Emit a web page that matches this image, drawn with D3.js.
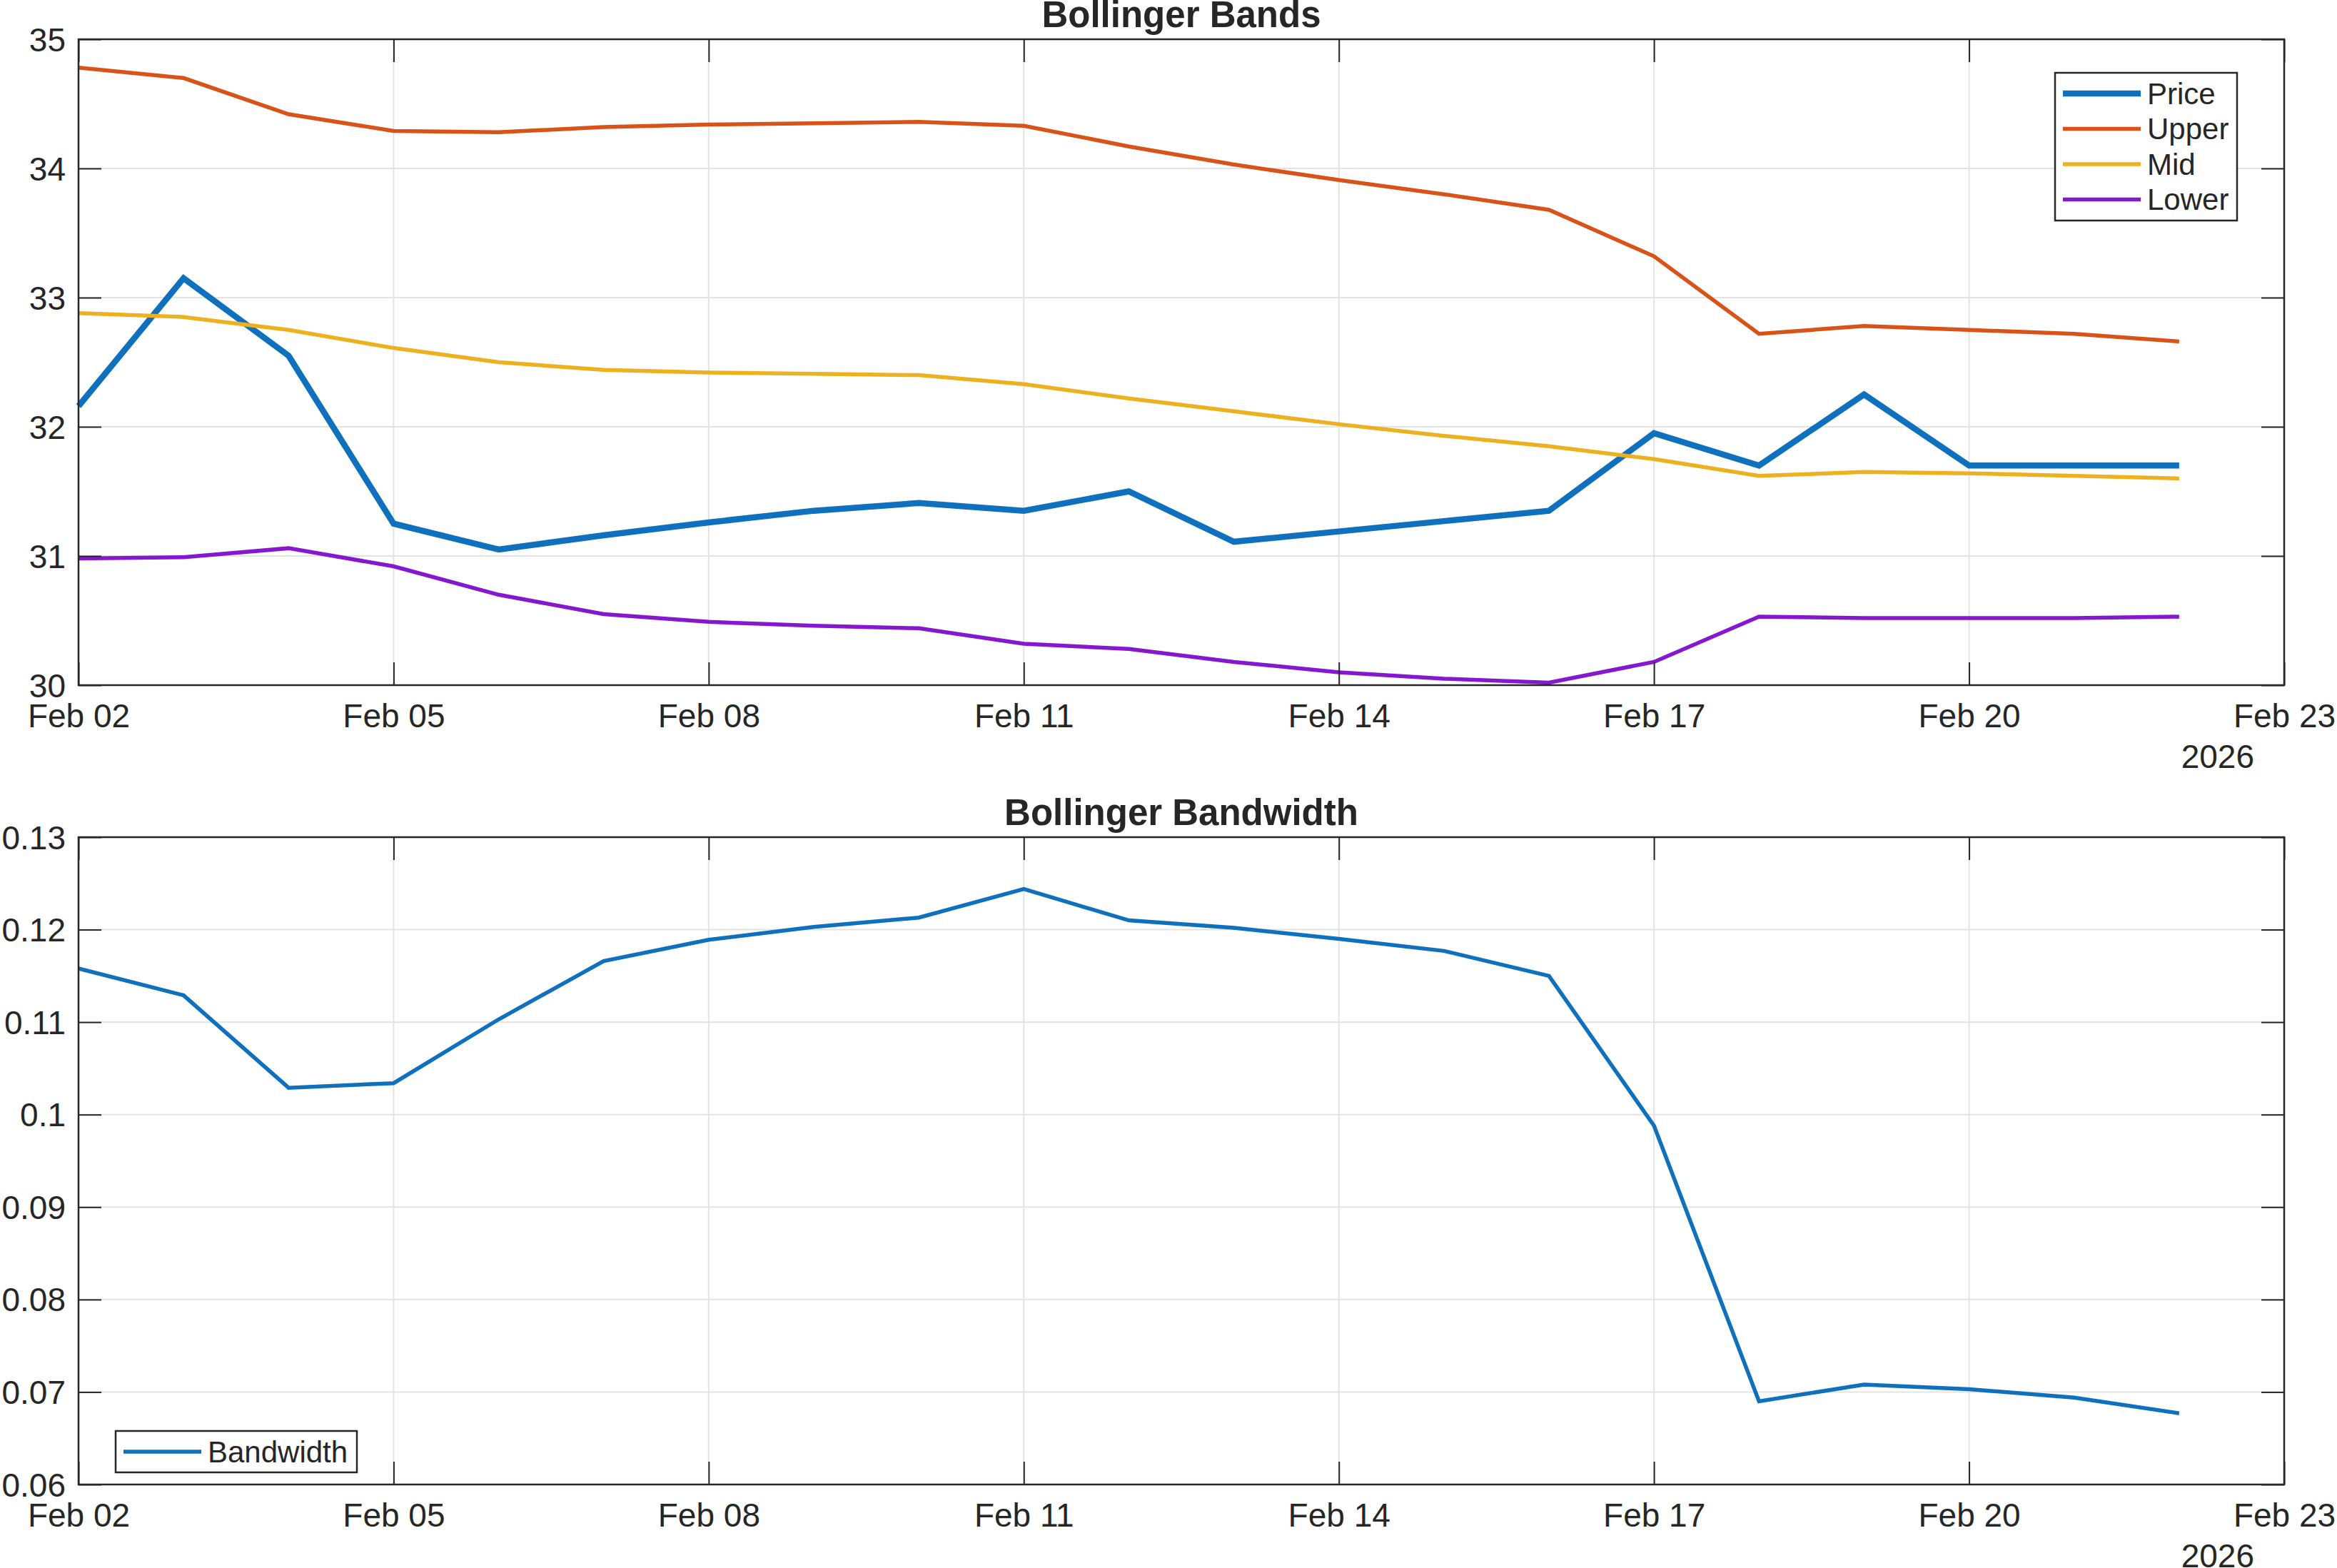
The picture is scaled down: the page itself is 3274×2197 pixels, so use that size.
<!DOCTYPE html>
<html>
<head>
<meta charset="utf-8">
<script src="https://cdn.jsdelivr.net/npm/d3@7"></script>
<style>
  body { margin: 0; background: #fff; }
  text { font-family: "Liberation Sans", Arial, sans-serif; fill: #262626; }
</style>
</head>
<body>
<div id="chart"></div>
<script>
let width = 3274;
let height = 2197;

// Data
let dates = ["2026-02-02", "2026-02-03", "2026-02-04", "2026-02-05", "2026-02-06", "2026-02-07", "2026-02-08",
    "2026-02-09", "2026-02-10", "2026-02-11", "2026-02-12", "2026-02-13", "2026-02-14", "2026-02-15",
    "2026-02-16", "2026-02-17", "2026-02-18", "2026-02-19", "2026-02-20", "2026-02-21", "2026-02-22"];
let price = [32.16, 33.15, 32.55, 31.25, 31.05, 31.16, 31.26, 31.35, 31.41, 31.35, 31.50,
    31.11, 31.19, 31.27, 31.35, 31.95, 31.70, 32.25, 31.70, 31.70, 31.70];
let upper = [34.78, 34.70, 34.42, 34.29, 34.28, 34.32, 34.34, 34.35, 34.36, 34.33, 34.17,
    34.03, 33.91, 33.80, 33.68, 33.32, 32.72, 32.78, 32.75, 32.72, 32.66];
let mid = [32.88, 32.85, 32.75, 32.61, 32.50, 32.44, 32.42, 32.41, 32.40, 32.33, 32.22,
    32.12, 32.02, 31.93, 31.85, 31.75, 31.62, 31.65, 31.64, 31.62, 31.60];
let lower = [30.98, 30.99, 31.06, 30.92, 30.70, 30.55, 30.49, 30.46, 30.44, 30.32, 30.28,
    30.18, 30.10, 30.05, 30.02, 30.18, 30.53, 30.52, 30.52, 30.52, 30.53];
let bandwidth = [0.1158, 0.1129, 0.1029, 0.1034, 0.1103, 0.1166, 0.1189, 0.1203, 0.1213, 0.1244, 0.1210,
    0.1202, 0.1190, 0.1177, 0.1150, 0.0988, 0.0690, 0.0708, 0.0703, 0.0694, 0.0677];

let xTickDates = ["2026-02-02", "2026-02-05", "2026-02-08", "2026-02-11", "2026-02-14", "2026-02-17", "2026-02-20", "2026-02-23"];
let xDomain = ["2026-02-02", "2026-02-23"];
let bandTicks = [30, 31, 32, 33, 34, 35];
let widthTicks = [0.06, 0.07, 0.08, 0.09, 0.10, 0.11, 0.12, 0.13];
let yearLabel = "2026";

// Colors
let colorAxis = '#262626';
let colorGrid = '#e3e3e3';
let colorSeries = {
    "Price": '#0f71be',
    "Upper": '#d95319',
    "Mid": '#edb120',
    "Lower": '#8517d0',
    "Bandwidth": '#0f71be'
};

let parseDate = d3.utcParse("%Y-%m-%d");
let fmtDate = d3.utcFormat("%b %d");

let left = 110, right = 3200;
let tickFont = 46, legendFont = 42, titleFont = 51;

let svg = d3.select("#chart")
    .append("svg")
    .attr("width", width)
    .attr("height", height);

let xScale = d3.scaleUtc()
    .domain(xDomain.map(parseDate))
    .range([left, right]);

function drawPanel(opts) {
    let yScale = d3.scaleLinear()
        .domain(opts.yDomain)
        .range([opts.bottom, opts.top]);

    let g = svg.append("g");

    // grid
    g.selectAll(".vgrid")
        .data(xTickDates.map(parseDate))
        .enter().append("line")
        .attr("x1", d => xScale(d)).attr("x2", d => xScale(d))
        .attr("y1", opts.top).attr("y2", opts.bottom)
        .attr("stroke", colorGrid).attr("stroke-width", 2);
    g.selectAll(".hgrid")
        .data(opts.yTicks)
        .enter().append("line")
        .attr("x1", left).attr("x2", right)
        .attr("y1", d => yScale(d)).attr("y2", d => yScale(d))
        .attr("stroke", colorGrid).attr("stroke-width", 2);

    // series
    opts.series.forEach(s => {
        let line = d3.line()
            .x((d, i) => xScale(parseDate(dates[i])))
            .y(d => yScale(d));
        g.append("path")
            .datum(s.values)
            .attr("fill", "none")
            .attr("stroke", colorSeries[s.name])
            .attr("stroke-width", s.w)
            .attr("stroke-linejoin", "miter")
            .attr("d", line);
    });

    // axes, ticks inward on all sides
    let tickLen = 32;
    let xAxisB = d3.axisBottom(xScale).tickValues(xTickDates.map(parseDate)).tickSizeInner(-tickLen).tickSizeOuter(0).tickFormat(fmtDate);
    let xAxisT = d3.axisTop(xScale).tickValues(xTickDates.map(parseDate)).tickSizeInner(-tickLen).tickSizeOuter(0).tickFormat("");
    let yAxisL = d3.axisLeft(yScale).tickValues(opts.yTicks).tickSizeInner(-tickLen).tickSizeOuter(0).tickFormat(d3.format("~g")).tickPadding(18);
    let yAxisR = d3.axisRight(yScale).tickValues(opts.yTicks).tickSizeInner(-tickLen).tickSizeOuter(0).tickFormat("");

    let axes = [
        g.append("g").attr("transform", "translate(0," + opts.bottom + ")").call(xAxisB),
        g.append("g").attr("transform", "translate(0," + opts.top + ")").call(xAxisT),
        g.append("g").attr("transform", "translate(" + left + ",0)").call(yAxisL),
        g.append("g").attr("transform", "translate(" + right + ",0)").call(yAxisR)
    ];
    axes.forEach(a => {
        a.select(".domain").remove();
        a.selectAll(".tick line").attr("stroke", colorAxis).attr("stroke-width", 2);
        a.selectAll("text").attr("font-size", tickFont).attr("font-family", "Liberation Sans, Arial, sans-serif").attr("fill", colorAxis);
    });
    axes[0].selectAll("text").attr("dy", null).attr("y", 59);
    axes[2].selectAll("text").attr("dy", "0.35em");

    // box
    g.append("rect")
        .attr("x", left).attr("y", opts.top)
        .attr("width", right - left).attr("height", opts.bottom - opts.top)
        .attr("fill", "none").attr("stroke", colorAxis).attr("stroke-width", 2.5);

    // year label
    g.append("text")
        .attr("x", 3158).attr("y", opts.bottom + 116)
        .attr("text-anchor", "end")
        .attr("font-size", tickFont)
        .text(yearLabel);

    // title
    g.append("text")
        .attr("x", (left + right) / 2).attr("y", opts.top - 17)
        .attr("text-anchor", "middle")
        .attr("font-size", titleFont)
        .attr("font-weight", "bold")
        .text(opts.title);

    // legend
    let lg = g.append("g").attr("transform", "translate(" + opts.legend.x + "," + opts.legend.y + ")");
    lg.append("rect")
        .attr("width", opts.legend.w).attr("height", opts.legend.h)
        .attr("fill", "#fff").attr("stroke", colorAxis).attr("stroke-width", 2.5);
    opts.series.forEach((s, i) => {
        let cy = opts.legend.first + i * 49.5;
        lg.append("line")
            .attr("x1", opts.legend.lx0).attr("x2", opts.legend.lx1)
            .attr("y1", cy).attr("y2", cy)
            .attr("stroke", colorSeries[s.name]).attr("stroke-width", s.w);
        lg.append("text")
            .attr("x", opts.legend.lx1 + 9).attr("y", cy)
            .attr("dy", "0.35em")
            .attr("font-size", legendFont)
            .text(s.name);
    });
}

drawPanel({
    title: "Bollinger Bands",
    top: 55, bottom: 960,
    yDomain: [30, 35],
    yTicks: bandTicks,
    series: [
        {name: "Price", values: price, w: 8.5},
        {name: "Upper", values: upper, w: 5.5},
        {name: "Mid", values: mid, w: 5.5},
        {name: "Lower", values: lower, w: 5.5}
    ],
    legend: {x: 2879, y: 102, w: 255, h: 207, first: 29, lx0: 11, lx1: 120}
});

drawPanel({
    title: "Bollinger Bandwidth",
    top: 1173, bottom: 2080,
    yDomain: [0.06, 0.13],
    yTicks: widthTicks,
    series: [
        {name: "Bandwidth", values: bandwidth, w: 5.5}
    ],
    legend: {x: 162, y: 2005, w: 338, h: 58, first: 29, lx0: 11, lx1: 120}
});
</script>
</body>
</html>
